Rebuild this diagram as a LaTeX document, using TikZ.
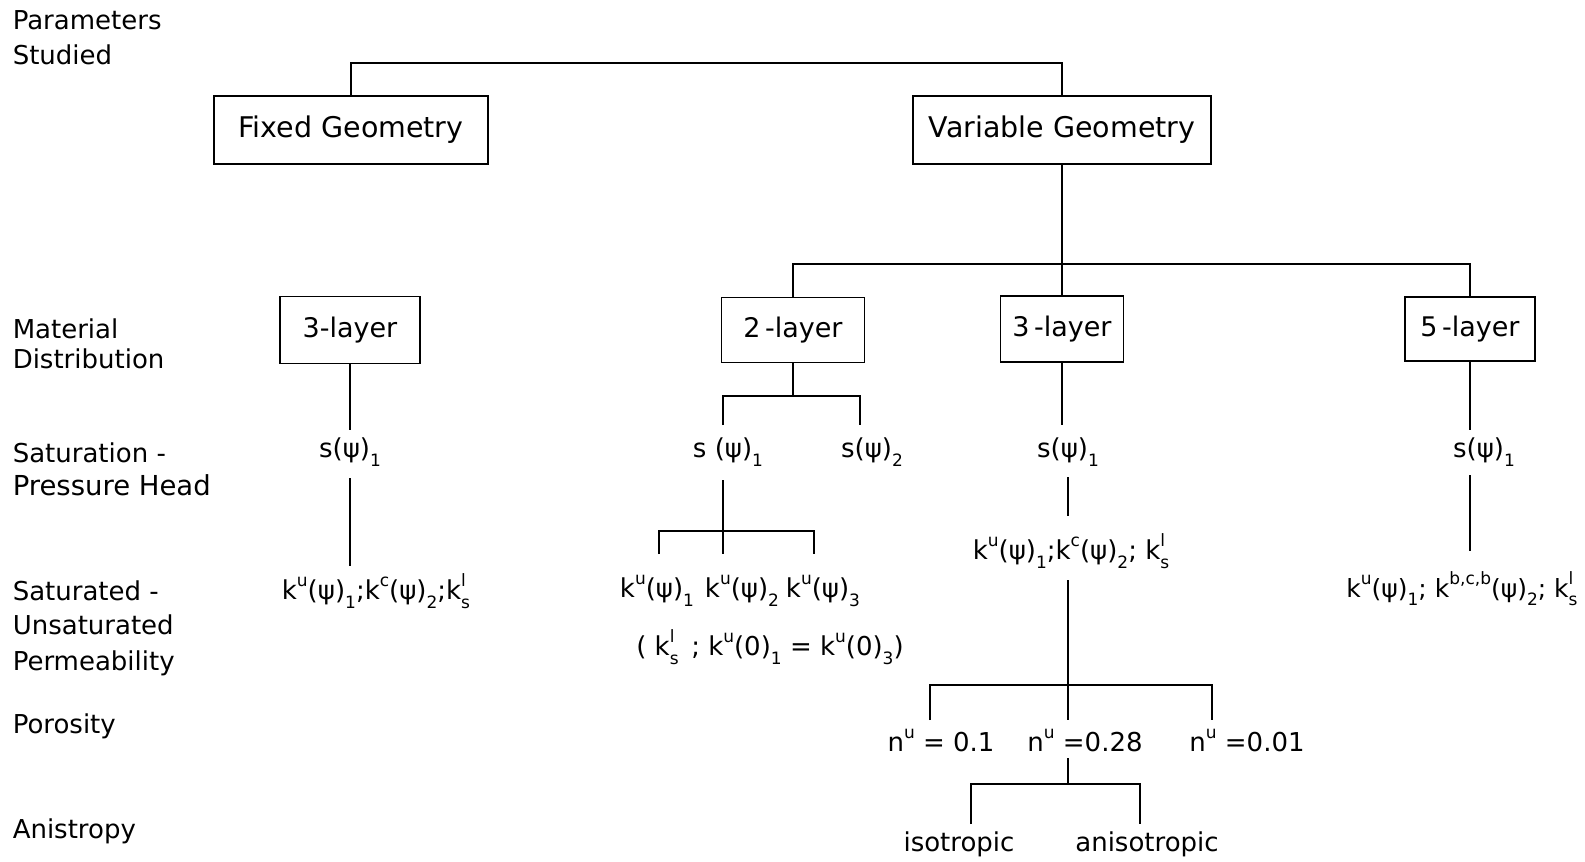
\documentclass[tikz,border=0pt]{standalone}
\usepackage{fontspec}
\setmainfont{DejaVu Sans}
\newcommand\su[1]{\raisebox{0.5em}{\fontsize{17}{17}\selectfont #1}}
\newcommand\dn[1]{\raisebox{-0.35em}{\fontsize{17}{17}\selectfont #1}}
\newcommand\ud[2]{\makebox[0pt][l]{\su{#1}}\dn{#2}}
\begin{document}
\begin{tikzpicture}[x=1pt,y=-1pt,font=\fontsize{26}{30}\selectfont,line width=1.5pt,
  box/.style={draw,line width=1.6pt,inner sep=0pt,font=\fontsize{28.5}{32}\selectfont},
  lbox/.style={draw,line width=1.6pt,inner sep=0pt,font=\fontsize{27}{32}\selectfont},
  lab/.style={anchor=west,inner sep=0pt},
  t/.style={inner sep=0pt}]
\useasboundingbox (0,0) rectangle (1585,862);
% left labels
\node[lab] (p1) at (12,20) {Parameters};
\node[lab] (p2) at (12,55) {Studied};
\node[lab] (m1) at (12,329) {Material};
\node[lab] (m2) at (12,359) {Distribution};
\node[lab] (s1) at (12,453) {Saturation -};
\node[lab,font=\fontsize{27.5}{30}\selectfont] (s2) at (12,485) {Pressure Head};
\node[lab] (u1) at (12,591) {Saturated -};
\node[lab] (u2) at (12,625) {Unsaturated};
\node[lab] (u3) at (12,663) {Permeability};
\node[lab] (po) at (12,726) {Porosity};
\node[lab] (an) at (12,831) {Anistropy};
% boxes
\node[box,minimum width=274pt,minimum height=68pt] (fg) at (351,130) {Fixed Geometry};
\node[box,minimum width=298pt,minimum height=68pt] (vg) at (1062,130) {Variable Geometry};
\node[lbox,minimum width=140pt,minimum height=67pt] (l3) at (350,330) {3-layer};
\node[lbox,minimum width=143pt,minimum height=65pt] (v2) at (793,330) {2\,-layer};
\node[lbox,minimum width=123pt,minimum height=66pt] (v3) at (1062,329) {3\,-layer};
\node[lbox,minimum width=130pt,minimum height=64pt] (v5) at (1470,329) {5\,-layer};
% top bracket
\coordinate (tb) at (0,63);
\draw (fg.north) -- (fg.north |- tb) -| (vg.north);
% variable split
\coordinate (mb) at (0,264);
\draw (vg.south) -- (vg.south |- mb);
\draw (v2.north) |- (mb -| v5.north) -- (v5.north);
\draw (v3.north) -- (v3.north |- mb);
% left column
\node[t] (ls) at (350,452) {s(ψ)\dn{1}};
\node[t] (lk) at (376,591) {k\su{u}(ψ)\dn{1};k\su{c}(ψ)\dn{2};k\ud{l}{s}};
\coordinate (la) at (350,430);
\coordinate (lb) at (350,478);
\coordinate (lc) at (350,566);
\draw (l3.south) -- (la);
\draw (lb) -- (lc);
% 2-layer column
\coordinate (b2) at (793,396);
\coordinate (b2l) at (723,425);
\coordinate (b2r) at (860,425);
\draw (v2.south) -- (b2);
\draw (b2l) |- (b2) -| (b2r);
\node[t] (s21) at (728,452) {s (ψ)\dn{1}};
\node[t] (s22) at (872,452) {s(ψ)\dn{2}};
\coordinate (c2t) at (723,480);
\coordinate (c2) at (723,531);
\coordinate (c2a) at (659,554);
\coordinate (c2b) at (723,554);
\coordinate (c2c) at (814,554);
\draw (c2t) -- (c2b);
\draw (c2a) |- (c2) -| (c2c);
\node[t] (k21) at (657,591) {k\su{u}(ψ)\dn{1}};
\node[t] (k22) at (742,591) {k\su{u}(ψ)\dn{2}};
\node[t] (k23) at (823,591) {k\su{u}(ψ)\dn{3}};
\node[t] (k2p) at (770,647) {( k\ud{l}{s}\, ; k\su{u}(0)\dn{1} = k\su{u}(0)\dn{3})};
% 3-layer column
\coordinate (m3a) at (1062,425);
\draw (v3.south) -- (m3a);
\node[t] (s3) at (1068,452) {s(ψ)\dn{1}};
\coordinate (m3b) at (1068,477);
\coordinate (m3c) at (1068,516);
\draw (m3b) -- (m3c);
\node[t] (k3) at (1071,551) {k\su{u}(ψ)\dn{1};k\su{c}(ψ)\dn{2}; k\ud{l}{s}};
\coordinate (m3d) at (1068,580);
\coordinate (m3e) at (1068,685);
\coordinate (m3l) at (930,720);
\coordinate (m3m) at (1068,720);
\coordinate (m3r) at (1212,720);
\draw (m3d) -- (m3m);
\draw (m3l) |- (m3e) -| (m3r);
\node[t] (n1) at (941,740) {n\su{u} = 0.1};
\node[t] (n2) at (1085,740) {n\su{u} =0.28};
\node[t] (n3) at (1247,740) {n\su{u} =0.01};
\coordinate (i0) at (1068,758);
\coordinate (i1) at (1068,784);
\coordinate (il) at (971,824);
\coordinate (ir) at (1140,824);
\draw (i0) -- (i1);
\draw (il) |- (i1) -| (ir);
\node[t] (iso) at (959,844) {isotropic};
\node[t] (ani) at (1147,844) {anisotropic};
% 5-layer column
\coordinate (f5a) at (1470,430);
\draw (v5.south) -- (f5a);
\node[t] (s5) at (1484,452) {s(ψ)\dn{1}};
\coordinate (f5b) at (1470,475);
\coordinate (f5c) at (1470,551);
\draw (f5b) -- (f5c);
\node[t,font=\fontsize{25}{30}\selectfont] (k5) at (1462,589) {k\su{u}(ψ)\dn{1}; k\su{b,c,b}(ψ)\dn{2}; k\ud{l}{s}};
\end{tikzpicture}
\end{document}
